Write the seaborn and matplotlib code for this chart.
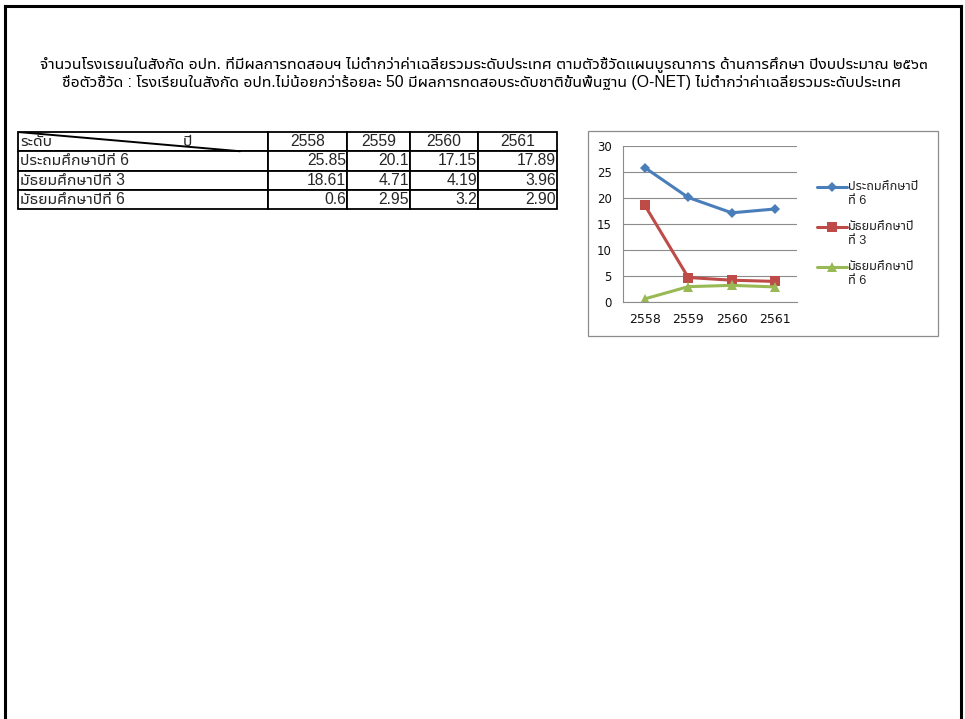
import matplotlib
matplotlib.use("Agg")
import matplotlib.pyplot as plt
import seaborn as sns
import pandas as pd
from matplotlib import font_manager
from matplotlib.ft2font import FT2Font
from matplotlib.lines import Line2D
from matplotlib.patches import Rectangle
from matplotlib.table import Table
from matplotlib.legend_handler import HandlerLine2D

# ---------------- data ----------------
title_line1 = ("จำนวนโรงเรยนในสังกัด อปท. ที่มีผลการทดสอบฯ ไม่ต่ำกว่าค่าเฉลี่ยรวมระดับประเทศ "
               "ตามตัวชี้วัดแผนบูรณาการ ด้านการศึกษา ปีงบประมาณ ๒๕๖๓")
title_line2 = ("ชื่อตัวชี้วัด : โรงเรียนในสังกัด อปท.ไม่น้อยกว่าร้อยละ 50 "
               "มีผลการทดสอบระดับชาติขั้นพื้นฐาน (O-NET) ไม่ต่ำกว่าค่าเฉลี่ยรวมระดับประเทศ")
years = ["2558", "2559", "2560", "2561"]
levels = ["ประถมศึกษาปีที่ 6", "มัธยมศึกษาปีที่ 3", "มัธยมศึกษาปีที่ 6"]
legend_labels = ["ประถมศึกษาปี\nที่ 6", "มัธยมศึกษาปี\nที่ 3", "มัธยมศึกษาปี\nที่ 6"]
primary6 = ["25.85", "20.1", "17.15", "17.89"]
secondary3 = ["18.61", "4.71", "4.19", "3.96"]
secondary6 = ["0.6", "2.95", "3.2", "2.90"]
header_left = "ระดับ"
header_right = "ปี"
y_ticks = [0, 5, 10, 15, 20, 25, 30]

series_txt = [primary6, secondary3, secondary6]

# ---------------- fonts ----------------
def find_thai_fonts():
    found = []
    seen = set()
    for f in font_manager.fontManager.ttflist:
        try:
            cm = FT2Font(f.fname).get_charmap()
        except Exception:
            continue
        if ord("ก") in cm and ord("ี") in cm and f.name not in seen:
            seen.add(f.name)
            found.append(f.name)
    return found

thai_fonts = find_thai_fonts()
preferred = ["Tahoma", "Noto Sans Thai UI", "Noto Sans Thai", "Loma", "Garuda",
             "Sarabun", "Norasi", "Kinnari", "Waree", "Umpush"]
thai_font = None
for p in preferred:
    if p in thai_fonts:
        thai_font = p
        break
if thai_font is None and thai_fonts:
    thai_font = thai_fonts[0]

sns.set_style("white")
thai_list = [thai_font] if thai_font else []
fam = ["Liberation Sans"] + thai_list + ["DejaVu Sans"]
fam_chart = ["DejaVu Sans"] + thai_list
plt.rcParams["font.family"] = fam

# ---------------- figure ----------------
W, H = 965, 719
fig = plt.figure(figsize=(W / 100, H / 100), dpi=100)
fig.patch.set_facecolor("white")

def fx(px):
    return px / W

def fy(py):
    return 1 - py / H

# page border
for xs, ys in [([4.5, 4.5], [6, 719]), ([4.5, 961], [6, 6]), ([961, 961], [6, 719])]:
    fig.add_artist(Line2D([fx(x) for x in xs], [fy(y) for y in ys], color="black", lw=2.2,
                          solid_capstyle="projecting"))

# titles
fig.text(fx(484), fy(64), title_line1, ha="center", va="center", fontsize=11.3, color="black")
fig.text(fx(482), fy(83), title_line2, ha="center", va="center", fontsize=11.3, color="black")

# ---------------- table ----------------
tx0, tx1, ty0, ty1 = 18, 557, 132, 209
tax = fig.add_axes([fx(tx0), fy(ty1), fx(tx1) - fx(tx0), fy(ty0) - fy(ty1)])
tax.set_axis_off()
col_px = [250, 79, 63, 68, 79]
col_w = [c / sum(col_px) for c in col_px]
n_rows = 1 + len(levels)
row_h = 1.0 / n_rows
tbl = Table(tax, bbox=[0, 0, 1, 1])
for c in range(5):
    txt = "" if c == 0 else years[c - 1]
    tbl.add_cell(0, c, col_w[c], row_h, text=txt, loc="center")
for r, (lab, vals) in enumerate(zip(levels, series_txt), start=1):
    cell = tbl.add_cell(r, 0, col_w[0], row_h, text=lab, loc="left")
    cell.PAD = 0.006
    for c, v in enumerate(vals, start=1):
        cell = tbl.add_cell(r, c, col_w[c], row_h, text=v, loc="right")
        cell.PAD = 0.012
tbl.auto_set_font_size(False)
tbl.set_fontsize(11.3)
for key, cell in tbl.get_celld().items():
    cell.set_linewidth(1.3)
    cell.set_edgecolor("black")
tax.add_table(tbl)
tax.plot([0, 222 / sum(col_px)], [1, 1 - row_h], color="black", lw=1.4,
         transform=tax.transAxes)
tax.text(0.004, 1 - row_h / 2, header_left, ha="left", va="center", fontsize=11.3,
         transform=tax.transAxes)
tax.text(col_w[0] * 0.66, 1 - row_h / 2, header_right, ha="left", va="center", fontsize=11.3,
         transform=tax.transAxes)

# ---------------- chart ----------------
fig.add_artist(Rectangle((fx(588), fy(336)), fx(938) - fx(588), fy(131) - fy(336),
                         transform=fig.transFigure, fill=False, edgecolor="#8c8c8c", lw=0.9))

rows = []
for lev, vals in zip(levels, series_txt):
    for yr, v in zip(years, vals):
        rows.append({"year": yr, "value": float(v), "level": lev})
df = pd.DataFrame(rows)

colors = ["#4A7EBB", "#BE4B48", "#98B954"]
mk = ["D", "s", "^"]
msz = [5.5, 7, 7]
lw = 2.2
palette = dict(zip(levels, colors))
markers = dict(zip(levels, mk))

cax = fig.add_axes([fx(623), fy(302), fx(797) - fx(623), fy(146) - fy(302)])
sns.lineplot(data=df, x="year", y="value", hue="level", style="level", markers=markers,
             dashes=False, palette=palette, hue_order=levels, style_order=levels,
             lw=lw, markeredgewidth=0, legend=False, sort=False, ax=cax)
for line, s in zip(cax.get_lines(), msz):
    line.set_markersize(s)

cax.set_xlim(-0.5, len(years) - 0.5)
cax.set_ylim(0, 30)
cax.set_yticks(y_ticks)
cax.set_xlabel("")
cax.set_ylabel("")
cax.grid(axis="y", color="#8c8c8c", lw=0.8)
cax.grid(axis="x", visible=False)
cax.set_axisbelow(True)
for s in ["top", "right"]:
    cax.spines[s].set_visible(False)
for s in ["left", "bottom"]:
    cax.spines[s].set_color("#8c8c8c")
    cax.spines[s].set_linewidth(0.8)
cax.set_xticks(range(len(years)))
cax.set_xticklabels(years)
cax.set_xticks([i - 0.5 for i in range(len(years) + 1)], minor=True)
cax.tick_params(axis="x", which="major", length=0, labelsize=9, pad=8, labelcolor="#111111")
cax.tick_params(axis="x", which="minor", length=4, color="#8c8c8c", width=0.8, direction="out")
cax.tick_params(axis="y", which="major", length=5, color="#8c8c8c", width=0.8,
                direction="out", labelsize=8.5, pad=3, labelcolor="#111111")
for lab in cax.get_xticklabels() + cax.get_yticklabels():
    lab.set_family(fam_chart)
cax.set_facecolor("white")


class UpHandler(HandlerLine2D):
    def create_artists(self, legend, orig_handle, xdescent, ydescent, width, height,
                       fontsize, trans):
        return super().create_artists(legend, orig_handle, xdescent,
                                      ydescent - 1.15 * fontsize, width, height,
                                      fontsize, trans)


handles = [Line2D([0], [0], color=c, marker=m, markersize=s, lw=lw, markeredgewidth=0)
           for c, m, s in zip(colors, mk, msz)]
leg = fig.legend(handles, legend_labels, loc="upper left",
                 bbox_to_anchor=(fx(817), fy(181)), frameon=False, fontsize=9.2,
                 handlelength=2.35, handletextpad=0.1, labelspacing=1.12, borderpad=0,
                 borderaxespad=0, handler_map={Line2D: UpHandler()})

fig.savefig("out.png", dpi=100, facecolor="white")
